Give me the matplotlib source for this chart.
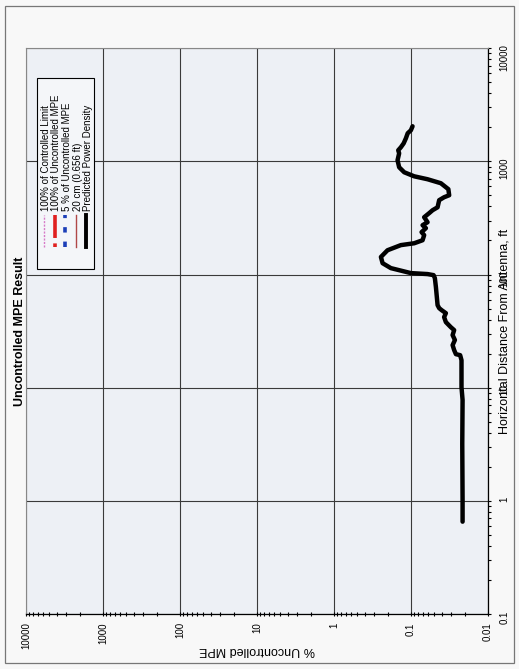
import matplotlib
matplotlib.use("Agg")
import matplotlib.pyplot as plt
from matplotlib.lines import Line2D
from matplotlib.patches import Rectangle
from matplotlib.ticker import LogLocator, NullFormatter

plt.rcParams['font.family'] = ['Liberation Sans', 'DejaVu Sans']

# predicted power density vs. horizontal distance
distance_ft = [0.656, 1.0, 3.2, 7.8, 10.1, 17.5, 19.4, 19.8, 21.5, 23.8,
               26.4, 29.2, 32.3, 34.3, 38.0, 42.1, 45.6, 48.5, 50.5, 53.7,
               63.2, 77.5, 93.0, 98.8, 101, 103, 114, 126, 143, 164,
               182, 189, 201, 223, 237, 257, 273, 290, 321, 349,
               370, 393, 454, 482, 502, 568, 641, 695, 738, 801,
               887, 1023, 1178, 1253, 1331, 1444, 1600, 1771, 1882, 2042]
mpe_pct = [0.0213, 0.0213, 0.0215, 0.0213, 0.0220, 0.0220, 0.0229, 0.0260, 0.0274, 0.0287,
           0.0268, 0.0287, 0.0274, 0.0303, 0.0351, 0.0370, 0.0351, 0.0399, 0.0429, 0.0450,
           0.0460, 0.0473, 0.0488, 0.0507, 0.0607, 0.100, 0.182, 0.233, 0.245, 0.201,
           0.135, 0.0906, 0.0705, 0.0672, 0.0726, 0.0638, 0.0705, 0.0607, 0.0672, 0.0578,
           0.0523, 0.0450, 0.0429, 0.0370, 0.0318, 0.0326, 0.0408, 0.0607, 0.0906, 0.122,
           0.142, 0.149, 0.142, 0.146, 0.135, 0.124, 0.116, 0.110, 0.100, 0.0951]

mpe_ticks = [10000, 1000, 100, 10, 1, 0.1, 0.01]
mpe_labels = ["10000", "1000", "100", "10", "1", "0.1", "0.01"]
dist_ticks = [0.1, 1, 10, 100, 1000, 10000]
dist_labels = ["0.1", "1", "10", "100", "1000", "10000"]

legend_labels = ["100% of Controlled Limit", "100% of Uncontrolled MPE",
                 "5 % of Uncontrolled MPE", "20 cm (0.656 ft)",
                 "Predicted Power Density"]

fig = plt.figure(figsize=(5.19, 6.69), dpi=100, facecolor="#f8f8f8")
ax = fig.add_axes([0.050, 0.082, 0.890, 0.846], facecolor="#edf0f5")

# page frame
fig.patches.append(Rectangle((5 / 519, 6 / 669), 509 / 519, 657 / 669,
                             transform=fig.transFigure, fill=False,
                             edgecolor="#777777", lw=0.9))

ax.plot(mpe_pct, distance_ft, color="black", lw=3.2,
        solid_capstyle="round", solid_joinstyle="round", zorder=3)

ax.set_xscale("log")
ax.set_yscale("log")
ax.set_xlim(10000, 0.01)
ax.set_ylim(0.1, 10000)

ax.set_xticks(mpe_ticks, mpe_labels, rotation=90, fontsize=7)
ax.xaxis.set_minor_locator(LogLocator(base=10, subs=range(2, 10)))
ax.xaxis.set_minor_formatter(NullFormatter())
ax.yaxis.tick_right()
ax.set_yticks(dist_ticks, dist_labels, rotation=90, fontsize=7)
ax.yaxis.set_minor_locator(LogLocator(base=10, subs=range(2, 10)))
ax.yaxis.set_minor_formatter(NullFormatter())

ax.tick_params(axis="x", which="both", direction="inout", length=3.5, width=0.8, pad=4)
ax.tick_params(axis="y", which="both", direction="out", length=2.5, width=0.8, pad=6)

ax.grid(True, which="major", color="#3a3a3a", lw=0.8)
ax.set_axisbelow(True)
for side in ("left", "top"):
    ax.spines[side].set_color("#888888")
    ax.spines[side].set_linewidth(0.8)
for side in ("bottom", "right"):
    ax.spines[side].set_color("black")
    ax.spines[side].set_linewidth(0.9)

ax.set_xlabel("% Uncontrolled MPE", rotation=180, fontsize=9)
ax.xaxis.set_label_coords(0.5, -0.064)
ax.xaxis.label.set_verticalalignment("center")
ax.yaxis.set_label_position("right")
ax.set_ylabel("Horizontal Distance From Antenna, ft", rotation=90, fontsize=9,
              va="center")
ax.yaxis.set_label_coords(1.037, 0.5)

ax.text(-0.013, 0.5, "Uncontrolled MPE Result", transform=ax.transAxes,
        rotation=90, ha="center", va="center", fontsize=9, fontweight="bold")

# legend, drawn sideways
ax.add_patch(Rectangle((0.024, 0.610), 0.123, 0.337, transform=ax.transAxes,
                       facecolor="#f4f6f9", edgecolor="black", lw=0.8, zorder=4))
handle_styles = [
    dict(color="#d77ac8", lw=1.0, ls=(0, (1.5, 1.0))),
    dict(color="#e02020", lw=2.6, ls=(0, (1.0, 1.5, 6.0, 0.0))),
    dict(color="#1c3fb8", lw=2.6, ls=(0, (1.5, 2.5))),
    dict(color="#b04848", lw=1.0, ls="-"),
    dict(color="black", lw=2.8, ls="-"),
]
col_x = [0.039, 0.062, 0.084, 0.109, 0.131]
for cx, label, style in zip(col_x, legend_labels, handle_styles):
    ax.add_line(Line2D([cx, cx], [0.648, 0.705], transform=ax.transAxes,
                       zorder=5, **style))
    ax.text(cx + 0.004, 0.712, label, transform=ax.transAxes, rotation=90,
            ha="center", va="bottom", fontsize=7, zorder=5)

fig.savefig("out.png", dpi=100, facecolor=fig.get_facecolor())
